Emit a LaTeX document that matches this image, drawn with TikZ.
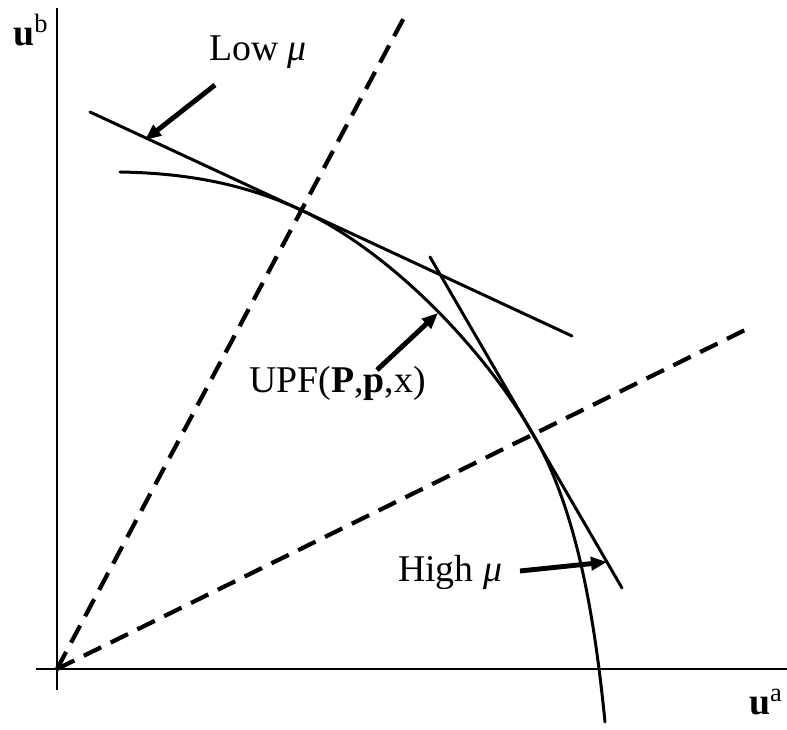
\documentclass[tikz,border=0pt]{standalone}
\usepackage{fontspec}
\setmainfont{Liberation Serif}
\usetikzlibrary{arrows.meta, calc}

\tikzset{
  curveline/.style={line width=1.7pt, line cap=round},
  axisline/.style={line width=0.9pt},
  rayline/.style={line width=2.4pt, dash pattern=on 11pt off 6pt},
  labelarrow/.style={line width=2.8pt, -{Triangle[length=0.32cm,width=0.26cm]}},
  lbl/.style={font=\fontsize{21.5}{26}\selectfont, inner sep=1pt}
}

\begin{document}
\begin{tikzpicture}
  \useasboundingbox (0,0) rectangle (15.74,14.58);

  % Axes
  \coordinate (O) at (1.14,1.2);
  \coordinate (ytop) at (1.14,14.42);
  \coordinate (ybot) at (1.14,0.78);
  \coordinate (xleft) at (0.72,1.2);
  \coordinate (xright) at (15.74,1.2);
  \draw[axisline] (ybot) -- (ytop);
  \draw[axisline] (xleft) -- (xright);
  \node[lbl] (ub) at (0.62,13.98) {\textbf{u}\textsuperscript{b}};
  \node[lbl] (ua) at (15.32,0.54) {\textbf{u}\textsuperscript{a}};

  % Rays from the origin
  \coordinate (rlow) at (8.14,14.34);
  \coordinate (rhigh) at (14.9,7.98);
  \draw[rayline] (O) -- (rlow);
  \draw[rayline] (O) -- (rhigh);

  % Tangent lines
  \coordinate (tl1) at (1.8,12.34);
  \coordinate (tl2) at (11.44,7.86);
  \coordinate (th1) at (8.6,9.44);
  \coordinate (th2) at (12.44,2.82);
  \draw[curveline] (tl1) -- (tl2);
  \draw[curveline] (th1) -- (th2);

  % Utility possibility frontier
  \draw[curveline] (2.4,11.14) .. controls (3.6,11.12) and (4.82,10.94) .. (6.02,10.38)
    .. controls (7.82,9.54) and (9.66,7.62) .. (10.66,5.9)
    .. controls (11.56,4.35) and (11.9,2.14) .. (12.1,0.14);

  % Labels
  \node[lbl] (low) at (5.16,13.54) {Low \textit{μ}};
  \node[lbl] (upf) at (6.75,6.92) {UPF(\textbf{P},\textbf{p},x)};
  \node[lbl] (high) at (9.0,3.14) {High \textit{μ}};

  \coordinate (lowtail) at (4.3,12.88);
  \coordinate (lowtip) at (2.9,11.78);
  \coordinate (upftail) at (7.54,7.18);
  \coordinate (upftip) at (8.76,8.32);
  \coordinate (hightail) at (10.4,3.16);
  \coordinate (hightip) at (12.14,3.34);
  \draw[labelarrow] (lowtail) -- (lowtip);
  \draw[labelarrow] (upftail) -- (upftip);
  \draw[labelarrow] (hightail) -- (hightip);
\end{tikzpicture}
\end{document}
